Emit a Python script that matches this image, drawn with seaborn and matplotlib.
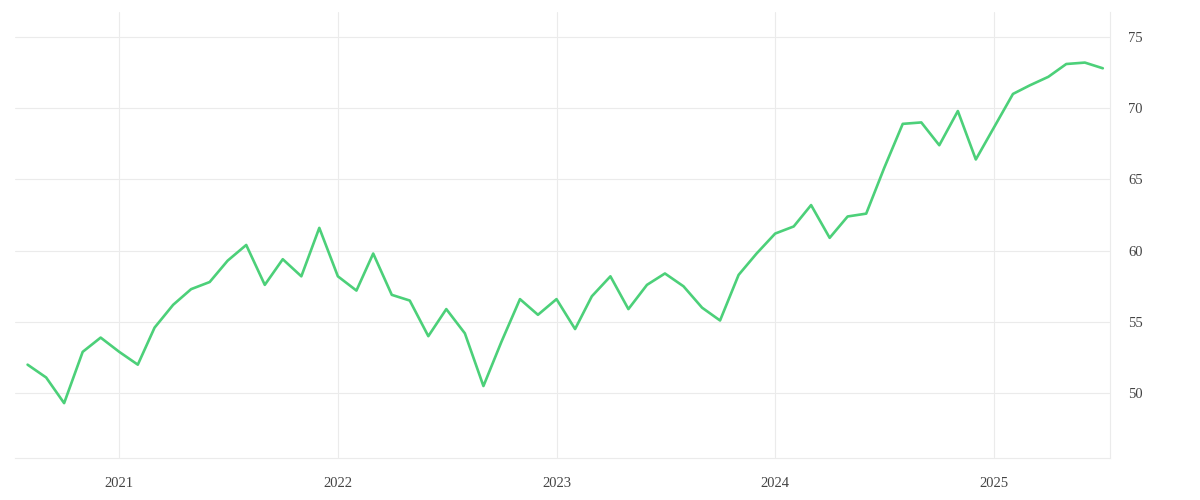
import matplotlib
matplotlib.use("Agg")
import matplotlib.pyplot as plt
import matplotlib.dates as mdates
import seaborn as sns
import pandas as pd

# ===================== data (monthly, Aug 2020 - Jul 2025) =====================
start_month = "2020-08-01"
values = [
    52.0, 51.1, 49.3, 52.9, 53.9,                                   # 2020
    52.9, 52.0, 54.6, 56.2, 57.3, 57.8, 59.3, 60.4, 57.6, 59.4, 58.2, 61.6,  # 2021
    58.2, 57.2, 59.8, 56.9, 56.5, 54.0, 55.9, 54.2, 50.5, 53.6, 56.6, 55.5,  # 2022
    56.6, 54.5, 56.8, 58.2, 55.9, 57.6, 58.4, 57.5, 56.0, 55.1, 58.3, 59.8,  # 2023
    61.2, 61.7, 63.2, 60.9, 62.4, 62.6, 65.8, 68.9, 69.0, 67.4, 69.8, 66.4,  # 2024
    68.7, 71.0, 71.6, 72.2, 73.1, 73.2, 72.8,                       # 2025
]
y_ticks = [50, 55, 60, 65, 70, 75]

dates = pd.date_range(start_month, periods=len(values), freq="MS")
df = pd.DataFrame({"date": dates, "value": values})

# ===================== style =====================
sns.set_style("white")
plt.rcParams["font.family"] = ["Liberation Serif", "DejaVu Serif"]
grid_c = "#ebebeb"
line_c = "#4cd079"
text_c = "#444444"

fig = plt.figure(figsize=(12, 5), dpi=100)
ax = fig.add_axes([0.0125, 0.084, 0.9125, 0.892])

sns.lineplot(data=df, x="date", y="value", ax=ax, color=line_c, linewidth=1.9)

ax.set_xlim(pd.Timestamp("2020-07-11"), pd.Timestamp("2025-07-13"))
ax.set_ylim(45.45, 76.75)

ax.yaxis.tick_right()
ax.set_yticks(y_ticks)
ax.xaxis.set_major_locator(mdates.YearLocator())
ax.xaxis.set_major_formatter(mdates.DateFormatter("%Y"))

ax.grid(True, color=grid_c, linewidth=0.8)
ax.tick_params(axis="y", length=0, pad=13, labelsize=10.5, labelcolor=text_c)
ax.tick_params(axis="x", length=7.5, width=0.8, color=grid_c, pad=6,
               labelsize=10.5, labelcolor=text_c)

for side in ["top", "left"]:
    ax.spines[side].set_visible(False)
for side in ["bottom", "right"]:
    ax.spines[side].set_color(grid_c)
    ax.spines[side].set_linewidth(0.8)

ax.set_xlabel("")
ax.set_ylabel("")

fig.savefig("out.png", dpi=100)
plt.close(fig)
